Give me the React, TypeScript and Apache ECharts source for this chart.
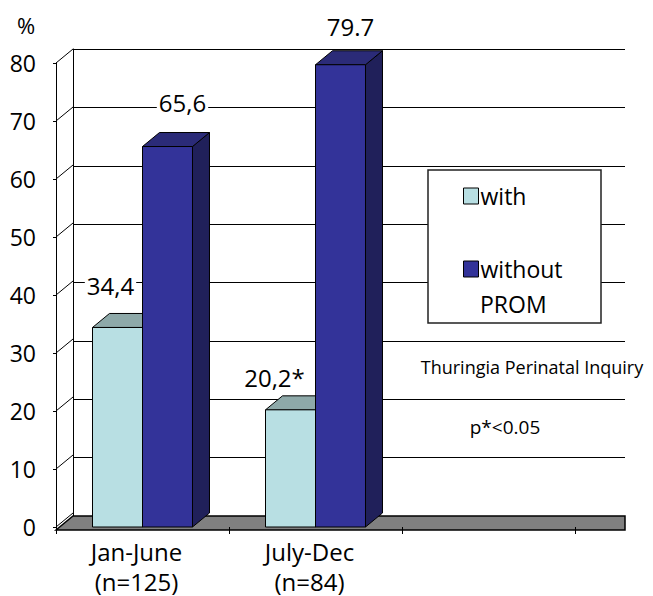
import React, { useEffect, useRef } from "react";
import * as echarts from "echarts";

const categories = ["Jan-June\n(n=125)", "July-Dec\n(n=84)", ""];
const seriesNames = ["with", "without"];
const withValues = [34.4, 20.2];
const withoutValues = [65.6, 79.7];
const withLabels = ["34,4", "20,2*"];
const withoutLabels = ["65,6", "79.7"];
const yTicks = [0, 10, 20, 30, 40, 50, 60, 70, 80];

const FONT = "Open Sans";
const DX = 17;
const DY = -14;

const withOffsets = [[-7, -42], [-16, -32]];
const withoutOffsets = [[15, -44], [10, -38]];

const colors = {
  with: { front: "#b8dfe3", top: "#8ea9a9", side: "#7a9a9c" },
  without: { front: "#333399", top: "#2b2b78", side: "#20205a" },
};

function makeBarRenderer(seriesIdx: number, labels: string[], offsets: number[][], c: any) {
  return (params: any, api: any) => {
    const cat = api.value(0);
    const val = api.value(1);
    const top = api.coord([cat, val]);
    const base = api.coord([cat, 0]);
    const catW = api.size([1, 0])[0];
    const bw = catW * 0.289;
    const x0 = seriesIdx === 0 ? top[0] - bw : top[0];
    const x1 = x0 + bw;
    const yT = top[1];
    const yB = base[1];
    const lineStyle = { stroke: "#000", lineWidth: 1 };
    const off = offsets[params.dataIndex];
    return {
      type: "group",
      children: [
        {
          type: "polygon",
          shape: { points: [[x1, yT], [x1 + DX, yT + DY], [x1 + DX, yB + DY], [x1, yB]] },
          style: { fill: c.side, ...lineStyle },
        },
        {
          type: "polygon",
          shape: { points: [[x0, yT], [x0 + DX, yT + DY], [x1 + DX, yT + DY], [x1, yT]] },
          style: { fill: c.top, ...lineStyle },
        },
        {
          type: "rect",
          shape: { x: x0, y: yT, width: bw, height: yB - yT },
          style: { fill: c.front, ...lineStyle },
        },
        {
          type: "text",
          x: (x0 + x1) / 2 + off[0],
          y: yT + off[1],
          style: {
            text: labels[params.dataIndex],
            fill: "#000",
            font: `24px "${FONT}"`,
            align: "center",
            verticalAlign: "middle",
            backgroundColor: "#fff",
            padding: [0, 2],
          },
        },
      ],
    };
  };
}

export default function App() {
  const ref = useRef<HTMLDivElement>(null);
  useEffect(() => {
    const chart = echarts.init(ref.current!, null, { renderer: "svg" });
    const option: any = {
      animation: false,
      backgroundColor: "#fff",
      textStyle: { fontFamily: FONT },
      grid: [
        { left: 56, top: 63, width: 519, height: 467 },
        { left: 73, top: 49, width: 552, height: 467 },
      ],
      xAxis: [
        {
          gridIndex: 0,
          type: "category",
          data: categories,
          axisLine: { show: false },
          axisTick: { show: true, length: 7, lineStyle: { color: "#000" } },
          axisLabel: {
            color: "#000",
            fontSize: 24,
            fontFamily: FONT,
            lineHeight: 30,
            margin: 9,
            padding: [0, 12, 0, 0],
          },
          splitLine: { show: false },
          z: 12,
        },
        { gridIndex: 1, type: "value", show: false, min: 0, max: 1 },
      ],
      yAxis: [
        {
          gridIndex: 0,
          type: "value",
          min: 0,
          max: 80,
          interval: 10,
          axisLine: { show: true, lineStyle: { color: "#000", width: 1 } },
          axisTick: { show: true, length: 3, lineStyle: { color: "#000" } },
          axisLabel: { color: "#000", fontSize: 23, fontFamily: FONT, margin: 20 },
          splitLine: { show: false },
          z: 12,
        },
        {
          gridIndex: 1,
          type: "value",
          min: 0,
          max: 80,
          interval: 10,
          axisLine: { show: true, lineStyle: { color: "#000", width: 1 } },
          axisTick: { show: false },
          axisLabel: { show: false },
          splitLine: { show: true, lineStyle: { color: "#000", width: 1 } },
        },
      ],
      legend: {
        orient: "vertical",
        left: 458,
        top: 179,
        itemWidth: 15,
        itemHeight: 16,
        itemGap: 49,
        icon: "rect",
        z: 20,
        textStyle: { fontSize: 23, fontFamily: FONT, color: "#000", lineHeight: 24, padding: [0, 0, 0, -3] },
        data: [
          { name: "with", itemStyle: { color: colors.with.front, borderColor: "#000", borderWidth: 1 } },
          { name: "without", itemStyle: { color: colors.without.front, borderColor: "#000", borderWidth: 1 } },
        ],
      },
      graphic: [
        {
          type: "polygon",
          z: 3,
          shape: { points: [[56, 530], [73, 516], [625, 516], [625, 530]] },
          style: { fill: "#808080", stroke: "#000", lineWidth: 1.5 },
        },
        {
          type: "rect",
          z: 15,
          shape: { x: 428, y: 170, width: 173, height: 153 },
          style: { fill: "#fff", stroke: "#222", lineWidth: 1.5 },
        },
        {
          type: "text",
          z: 20,
          x: 480,
          y: 304,
          style: { text: "PROM", font: `23px "${FONT}"`, fill: "#000", verticalAlign: "middle" },
        },
        {
          type: "text",
          z: 20,
          x: 26,
          y: 25,
          style: { text: "%", font: `22px "${FONT}"`, fill: "#000", align: "center", verticalAlign: "middle" },
        },
        {
          type: "text",
          z: 20,
          x: 532,
          y: 367,
          style: { text: "Thuringia Perinatal Inquiry", font: `18px "${FONT}"`, fill: "#000", align: "center", verticalAlign: "middle" },
        },
        {
          type: "text",
          z: 20,
          x: 505,
          y: 427,
          style: { text: "p*<0.05", font: `19px "${FONT}"`, fill: "#000", align: "center", verticalAlign: "middle" },
        },
      ],
      series: [
        {
          type: "custom",
          name: "",
          xAxisIndex: 0,
          yAxisIndex: 0,
          z: 4,
          silent: true,
          data: yTicks.map((v) => [0, v]),
          encode: { x: 0, y: 1 },
          renderItem: (params: any, api: any) => {
            const p = api.coord([0, api.value(1)]);
            const x = params.coordSys.x;
            return {
              type: "line",
              shape: { x1: x, y1: p[1], x2: x + DX, y2: p[1] + DY },
              style: { stroke: "#000", lineWidth: 1 },
            };
          },
        },
        {
          type: "custom",
          name: seriesNames[0],
          xAxisIndex: 0,
          yAxisIndex: 0,
          z: 8,
          itemStyle: { color: colors.with.front },
          data: withValues.map((v, i) => [i, v]),
          encode: { x: 0, y: 1 },
          renderItem: makeBarRenderer(0, withLabels, withOffsets, colors.with),
        },
        {
          type: "custom",
          name: seriesNames[1],
          xAxisIndex: 0,
          yAxisIndex: 0,
          z: 9,
          itemStyle: { color: colors.without.front },
          data: withoutValues.map((v, i) => [i, v]),
          encode: { x: 0, y: 1 },
          renderItem: makeBarRenderer(1, withoutLabels, withoutOffsets, colors.without),
        },
      ],
    };
    chart.setOption(option);
    return () => chart.dispose();
  }, []);
  return <div ref={ref} style={{ width: 653, height: 596, position: "absolute", left: 0, top: 0 }} />;
}
